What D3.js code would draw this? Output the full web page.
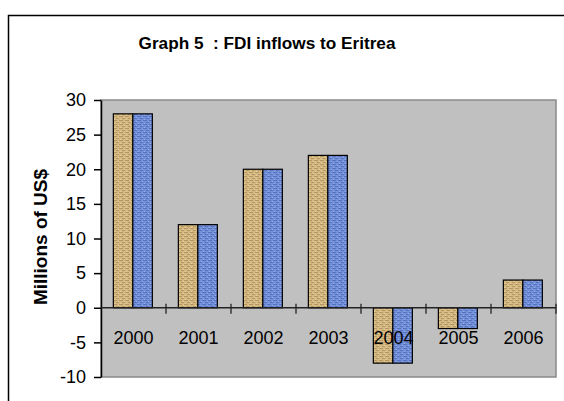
<!DOCTYPE html>
<html>
<head>
<meta charset="utf-8">
<script src="https://cdn.jsdelivr.net/npm/d3@7"></script>
<style>
  body { margin: 0; background: #fff; }
  svg { display: block; font-family: "Liberation Sans", Arial, sans-serif; }
</style>
</head>
<body>
<svg width="564" height="401"></svg>
<script>
var years = ["2000", "2001", "2002", "2003", "2004", "2005", "2006"];
var series1 = [28, 12, 20, 22, -8, -3, 4];
var series2 = [28, 12, 20, 22, -8, -3, 4];
var yTicks = [-10, -5, 0, 5, 10, 15, 20, 25, 30];
var keys = ["Series1", "Series2"];

var data = years.map(function (y, i) {
  return { year: y, Series1: series1[i], Series2: series2[i] };
});

var svg = d3.select("svg"),
    plot = { left: 101, right: 556, top: 100, bottom: 377 };

// textured fills, roughly like the old spreadsheet "canvas" fills
var defs = svg.append("defs");
function weave(id, base, dark, light) {
  var p = defs.append("pattern").attr("id", id).attr("patternUnits", "userSpaceOnUse")
    .attr("width", 6).attr("height", 4);
  p.append("rect").attr("width", 6).attr("height", 4).attr("fill", base);
  p.append("rect").attr("x", 0).attr("y", 0).attr("width", 4).attr("height", 1).attr("fill", dark);
  p.append("rect").attr("x", 3).attr("y", 2).attr("width", 3).attr("height", 1).attr("fill", dark);
  p.append("rect").attr("x", 5).attr("y", 1).attr("width", 1).attr("height", 1).attr("fill", light);
  p.append("rect").attr("x", 1).attr("y", 3).attr("width", 1).attr("height", 1).attr("fill", light);
}
weave("tan", "#D6B980", "#B39764", "#E6D09E");
weave("blue", "#7390D8", "#5673BF", "#94ACE8");
var fills = { Series1: "url(#tan)", Series2: "url(#blue)" };

// outer chart frame (runs off the right and bottom)
svg.append("rect").attr("x", 8.5).attr("y", 15.5).attr("width", 600).attr("height", 450)
  .attr("fill", "none").attr("stroke", "#000").attr("stroke-width", 1.5);

svg.append("text").attr("x", 267).attr("y", 49).attr("text-anchor", "middle")
  .attr("font-size", 17.2).attr("font-weight", "bold").text("Graph 5 \u00a0: FDI inflows to Eritrea");

var x0 = d3.scaleBand().domain(years).range([plot.left, plot.right]);
var bw = x0.bandwidth();
var x1 = d3.scaleBand().domain(keys).range([bw * 0.19, bw * 0.79]);
var y = d3.scaleLinear().domain([-10, 30]).range([plot.bottom, plot.top]);

svg.append("rect").attr("x", plot.left).attr("y", plot.top)
  .attr("width", plot.right - plot.left).attr("height", plot.bottom - plot.top)
  .attr("fill", "#C0C0C0").attr("stroke", "#8A8A8A").attr("stroke-width", 1.5);

svg.append("g").selectAll("g").data(data).enter().append("g")
  .attr("transform", function (d) { return "translate(" + x0(d.year) + ",0)"; })
  .selectAll("rect").data(function (d) {
    return keys.map(function (k) { return { key: k, value: d[k] }; });
  }).enter().append("rect")
  .attr("x", function (d) { return x1(d.key); })
  .attr("y", function (d) { return y(Math.max(0, d.value)); })
  .attr("width", x1.bandwidth())
  .attr("height", function (d) { return Math.abs(y(d.value) - y(0)); })
  .attr("fill", function (d) { return fills[d.key]; })
  .attr("stroke", "#000").attr("stroke-width", 1.2);

// y axis
var yAxis = svg.append("g").attr("transform", "translate(" + plot.left + ",0)")
  .call(d3.axisLeft(y).tickValues(yTicks).tickSize(7).tickPadding(8).tickSizeOuter(0)
    .tickFormat(function (d) { return String(d); }));
yAxis.select(".domain").attr("stroke-width", 1.5);
yAxis.selectAll(".tick line").attr("stroke-width", 1.5);
yAxis.selectAll("text").attr("font-size", 18).attr("font-family", "Liberation Sans, Arial, sans-serif")
  .attr("fill", "#000");

// category axis at zero
var y0 = y(0);
svg.append("line").attr("x1", plot.left).attr("x2", plot.right).attr("y1", y0).attr("y2", y0)
  .attr("stroke", "#222").attr("stroke-width", 1.5);
svg.append("g").selectAll("line").data(years).enter().append("line")
  .attr("x1", function (d) { return x0(d) + bw; }).attr("x2", function (d) { return x0(d) + bw; })
  .attr("y1", y0 - 4).attr("y2", y0 + 6).attr("stroke", "#222").attr("stroke-width", 1.3);
svg.append("g").selectAll("text").data(years).enter().append("text")
  .attr("x", function (d) { return x0(d) + bw / 2; }).attr("y", y0 + 36)
  .attr("text-anchor", "middle").attr("font-size", 18).text(function (d) { return d; });

svg.append("text").attr("transform", "translate(47,237) rotate(-90)")
  .attr("text-anchor", "middle").attr("font-size", 19).attr("font-weight", "bold")
  .text("Millions of US$");
</script>
</body>
</html>
